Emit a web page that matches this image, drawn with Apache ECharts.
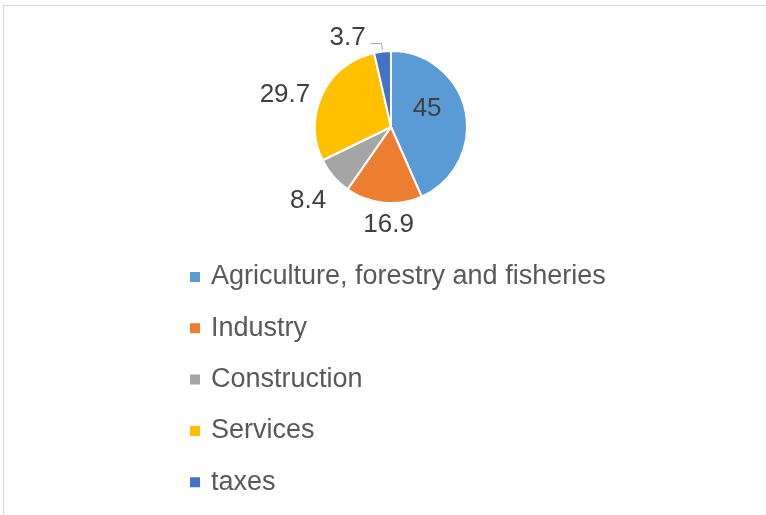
<!DOCTYPE html>
<html>
<head>
<meta charset="utf-8">
<script src="https://cdn.jsdelivr.net/npm/echarts@6/dist/echarts.min.js"></script>
<style>
  html, body { margin: 0; padding: 0; background: #fff; }
  #frame {
    position: absolute; left: 3px; top: 5px; width: 780px; height: 530px;
    border: 1px solid #d9d9d9; box-sizing: border-box;
  }
  #main { position: absolute; left: 0; top: 0; width: 766px; height: 515px; }
</style>
</head>
<body>
<div id="frame"></div>
<div id="main"></div>
<script>
  var categories = ["Agriculture, forestry and fisheries", "Industry", "Construction", "Services", "taxes"];
  var values = [45, 16.9, 8.4, 29.7, 3.7];
  var colors = ["#5B9BD5", "#ED7D31", "#A5A5A5", "#FFC000", "#4472C4"];

  // small nudges so the labels sit where Excel put them
  var labelNudge = [
    { dx: -4, dy: -10 },
    { dx: 36, dy: 14 },
    { dx: 4, dy: 19 },
    { dx: 0, dy: 4 },
    { dx: 0, dy: -6 }
  ];

  var chart = echarts.init(document.getElementById("main"));

  var pieData = categories.map(function (name, i) {
    var item = { name: name, value: values[i], itemStyle: { color: colors[i] } };
    if (i === 0) {
      item.label = { position: "inside" };
    }
    if (i === 4) {
      item.labelLine = { show: true, length: 8, length2: 11 };
    }
    return item;
  });

  chart.setOption({
    animation: false,
    legend: {
      orient: "vertical",
      left: 188,
      top: 262,
      padding: 0,
      icon: "rect",
      itemWidth: 12,
      itemHeight: 12,
      itemGap: 21.3,
      data: categories,
      textStyle: {
        fontFamily: "Liberation Sans",
        fontSize: 27,
        lineHeight: 30,
        color: "#595959",
        padding: [0, 0, 0, 5]
      }
    },
    series: [
      {
        type: "pie",
        center: [391, 127],
        radius: 76,
        startAngle: 90,
        clockwise: true,
        avoidLabelOverlap: false,
        itemStyle: { borderColor: "#fff", borderWidth: 2 },
        label: {
          show: true,
          position: "outside",
          formatter: "{c}",
          fontFamily: "Liberation Sans",
          fontSize: 26,
          color: "#404040"
        },
        labelLine: {
          show: false,
          length: 8,
          length2: 0,
          lineStyle: { color: "#A6A6A6", width: 1 }
        },
        labelLayout: function (p) {
          return labelNudge[p.dataIndex];
        },
        emphasis: { disabled: true },
        data: pieData
      }
    ]
  });
</script>
</body>
</html>
